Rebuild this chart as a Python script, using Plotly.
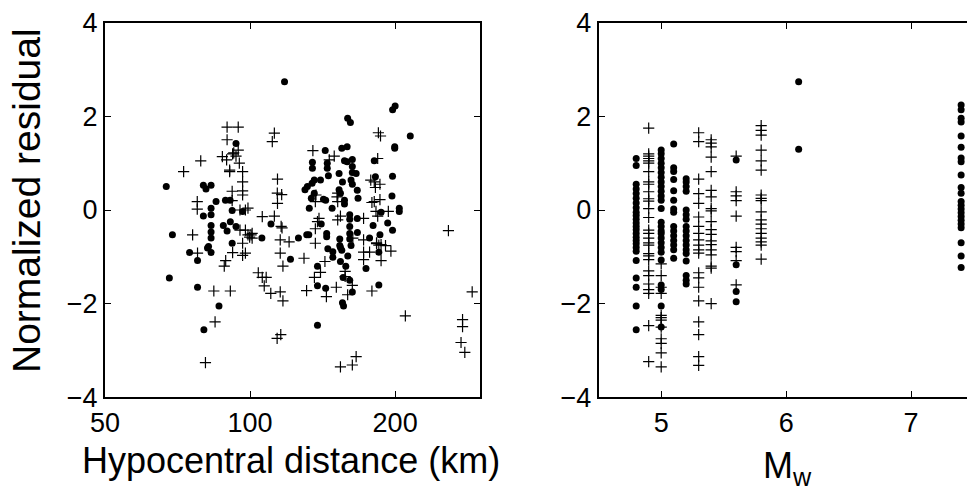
import math
import plotly.graph_objects as go

# left panel: residual vs hypocentral distance (km)
dist_dot = [67, 69, 80, 81, 83, 85, 80, 83, 83, 83, 83, 83, 88, 89.6, 88.9, 90.9, 91.8, 91, 93.5, 93.5,
            96.5, 91.8, 105.8, 110.5, 117.9, 126, 130, 131.1, 132.4, 132.7, 134, 135.9, 134.5, 135.9, 134.7,
            134.7, 140, 143.2, 144.6, 144.6, 145.4, 143.5, 144.2, 144.2, 153, 153, 154, 155, 159, 159, 157,
            157, 155.5, 159.4, 161.5, 162, 163, 163, 163, 163, 166, 161, 161, 161, 161, 161, 166.9, 166.9,
            162, 167, 153.5, 153.5, 177, 180, 182, 181, 186, 187, 193, 197, 197.5, 197.5, 199.6, 199.6,
            197.6, 200, 204, 204, 215, 74.9, 77.8, 83, 81.6, 82, 68, 77.8, 86.2, 80.2, 121.3, 138, 138,
            143.5, 145, 148.5, 148.5, 154, 154, 155, 158, 159.5, 156, 161, 163, 155.5, 156.3, 138, 174,
            185, 185, 131.5, 157, 148, 167.5, 140.5, 142]
res_dot_dist = [0.50, -0.53, 0.53, 0.45, 0.53, 0.18, -0.13, 0.04, -0.10, -0.33, -0.47, -0.60, -0.33, -0.45,
                0.21, 0.21, -0.01, -0.25, 1.42, -0.35, -0.03, -0.71, -0.60, -0.30, 2.74, -0.60, 0.43, -0.53,
                -0.53, 0.04, 0.25, 0.36, 0.57, 0.64, 0.89, 1.02, 0.64, 1.27, 1.00, 0.89, 0.73, 0.21, -0.50,
                -0.57, 0.78, 0.43, 0.36, 1.32, 1.35, 1.03, 0.21, 0.13, 0.60, 1.96, 1.87, 0.64, 0.55, 0.80,
                0.93, 1.08, 0.78, -0.10, -0.20, -0.35, -0.50, -0.62, 0.42, -0.18, -0.76, -0.48, -0.62, -0.76,
                -0.60, -0.33, 0.71, 1.05, -0.53, -0.05, -0.28, 0.30, 0.72, -0.43, 1.32, 1.35, 2.14, 2.22,
                0.04, -0.03, 1.58, -0.91, -1.08, -0.91, -0.81, -0.78, -1.45, -1.65, -2.05, -2.56, -1.05,
                -1.20, -1.62, -1.67, -0.83, -0.89, -1.01, -1.10, -0.80, -0.86, -1.20, -0.98, -1.44, -1.50,
                -1.75, -1.98, -2.05, -2.46, -1.25, -1.60, -0.90, 0.50, 1.05, 0.04, 0.25, -0.30, 0.23]

dist_plus = [72.8, 76, 77.7, 77.7, 79, 87.6, 89.4, 89.6, 94.5, 89.6, 90.7, 90.7, 92, 92.5, 93.5, 94.5, 95,
             96.5, 96.5, 96.5, 96.5, 91.8, 91.8, 95.3, 97.8, 99, 95.3, 97.8, 99, 100.5, 101, 99.8, 101, 106,
             111.2, 112.3, 114, 113.9, 116.3, 114, 112.3, 116, 116.5, 115.5, 120.5, 135, 136.6, 137, 139,
             138, 136.6, 136.6, 146, 149.5, 152, 152, 151.5, 152, 154, 163.4, 172, 172, 178, 181, 186, 182,
             181, 186, 179, 184, 184.6, 186.5, 182.5, 184, 193.6, 183, 187, 191, 258, 77.8, 89, 88.4, 92,
             96.5, 97.8, 96.5, 84.1, 91, 84.6, 80.8, 104, 106, 108, 107, 110.4, 115.5, 117, 115.5, 117,
             113.8, 115.8, 129.4, 131, 136, 140, 143, 144, 151, 154, 163, 166, 157.5, 157.5, 159.4, 163,
             172, 172, 177, 183, 185, 187, 196, 179, 210, 289, 276, 276, 274, 279]
res_plus_dist = [0.82, -0.53, 0.18, 0.02, 1.05, 1.14, 1.07, 1.77, 1.77, 1.50, 0.85, 0.82, 1.20, 1.22, 1.15,
                 1.28, 1.00, 0.82, 0.60, 0.41, 0.32, 0.40, 0.20, 0.00, 0.00, 0.04, -0.43, -0.43, -0.53,
                 -0.53, -0.50, -0.58, -0.60, -0.14, 1.46, 1.64, 0.66, 0.36, 0.33, 0.14, -0.13, -0.35, -0.38,
                 -0.64, -0.68, 1.27, 0.18, 0.32, -0.18, -0.25, -0.40, -0.71, 1.07, 1.15, 0.36, 0.18, 0.28,
                 -0.21, -0.13, -0.60, -0.18, -0.64, 0.64, 0.60, 0.55, 0.48, 0.18, 0.22, 0.16, 1.10, 1.65,
                 1.58, -0.03, -0.13, -0.03, -0.72, -0.74, -0.76, -0.44, -0.92, -1.08, -1.20, -0.91, -0.71,
                 -0.92, -0.97, -1.73, -1.73, -2.39, -3.26, -1.34, -1.44, -1.44, -1.62, -1.78, -1.75, -1.94,
                 -0.92, -1.20, -2.74, -2.66, -1.03, -1.72, -1.44, -1.33, -1.10, -1.85, -1.65, -3.35, -3.31,
                 -3.13, -1.42, -1.31, -1.81, -1.61, -1.06, -0.90, -0.90, -0.70, -0.75, -1.08, -0.88, -1.73,
                 -2.26, -1.75, -2.34, -2.49, -2.83, -3.04]

# right panel: residual vs moment magnitude, one list per magnitude
mw_dot_levels = [4.8, 5.0, 5.1, 5.2, 5.6, 6.1, 7.4]
res_dot_mw = [
    [1.10, 0.95, 0.55, 0.45, 0.35, 0.25, 0.15, 0.05, -0.05, -0.12, -0.20, -0.28, -0.35, -0.42, -0.50,
     -0.58, -0.65, -0.72, -0.80, -0.88, -1.08, -1.45, -1.65, -2.05, -2.56],
    [1.28, 1.20, 1.10, 1.00, 0.90, 0.80, 0.70, 0.60, 0.50, 0.40, 0.30, 0.21, 0.03, -0.26, -0.35, -0.45,
     -0.50, -0.60, -0.70, -0.80, -0.90, -1.07, -1.60, -1.70, -2.05, -2.50],
    [1.41, 0.90, 0.82, 0.65, 0.41, 0.21, 0.02, -0.05, -0.35, -0.45, -0.55, -0.65, -0.75, -0.85, -1.03],
    [0.67, 0.60, 0.50, 0.40, 0.00, -0.10, -0.20, -0.35, -0.45, -0.55, -0.65, -0.75, -0.85, -0.93, -1.09,
     -1.40, -1.50, -1.58],
    [1.07, -1.17, -1.74, -1.96],
    [2.74, 1.30],
    [2.24, 2.14, 1.96, 1.88, 1.58, 1.34, 1.11, 1.03, 0.75, 0.48, 0.36, 0.18, 0.10, 0.02, -0.06, -0.14,
     -0.22, -0.30, -0.38, -0.70, -0.98, -1.23],
]
mw_plus_levels = [4.9, 5.0, 5.3, 5.4, 5.6, 5.8]
res_plus_mw = [
    [1.75, 1.20, 1.15, 1.10, 1.05, 1.00, 0.82, 0.60, 0.55, 0.39, 0.24, 0.19, 0.03, -0.16, -0.43, -0.50,
     -0.60, -0.70, -0.75, -0.93, -0.98, -1.06, -1.30, -1.40, -1.58, -1.70, -1.78, -2.47, -3.24],
    [-1.15, -1.40, -1.65, -1.78, -2.25, -2.30, -2.35, -2.50, -2.75, -2.85, -3.05, -3.35],
    [1.65, 1.46, 0.66, 0.35, 0.14, -0.15, -0.35, -0.50, -0.64, -0.75, -0.85, -0.92, -1.34, -1.45, -1.65,
     -1.94, -2.39, -2.66, -3.13, -3.32],
    [1.50, 1.43, 1.35, 1.13, 0.82, 0.42, 0.28, 0.03, -0.02, -0.25, -0.42, -0.52, -0.66, -0.74, -0.85,
     -0.96, -1.20, -1.24, -2.00],
    [1.15, 0.39, 0.30, 0.20, -0.13, -0.80, -0.89, -1.08, -1.60],
    [1.80, 1.70, 1.60, 1.28, 1.05, 0.85, 0.32, 0.25, 0.20, -0.04, -0.21, -0.30, -0.40, -0.50, -0.60,
     -0.68, -0.75, -1.05],
]

y_ticks = [-4, -2, 0, 2, 4]
dist_ticks = [50, 100, 200]
mw_ticks = [5, 6, 7]

W, H = 967, 495
FONT = "Liberation Sans, Arial, sans-serif"

mw_dot_x = [m for m, r in zip(mw_dot_levels, res_dot_mw) for _ in r]
mw_dot_y = [v for r in res_dot_mw for v in r]
mw_plus_x = [m for m, r in zip(mw_plus_levels, res_plus_mw) for _ in r]
mw_plus_y = [v for r in res_plus_mw for v in r]

dot = dict(symbol="circle", size=7, color="black", line=dict(width=0))
plus = dict(symbol="cross-thin", size=8, color="black", line=dict(width=1.2, color="black"))

fig = go.Figure()
fig.add_trace(go.Scatter(x=dist_dot, y=res_dot_dist, mode="markers", marker=dot, xaxis="x", yaxis="y"))
fig.add_trace(go.Scatter(x=dist_plus, y=res_plus_dist, mode="markers", marker=plus, xaxis="x", yaxis="y"))
fig.add_trace(go.Scatter(x=mw_dot_x, y=mw_dot_y, mode="markers", marker=dot, xaxis="x2", yaxis="y2",
                         cliponaxis=False))
fig.add_trace(go.Scatter(x=mw_plus_x, y=mw_plus_y, mode="markers", marker=plus, xaxis="x2", yaxis="y2"))

ax = dict(showline=True, linecolor="black", linewidth=2, ticks="inside", ticklen=6, tickwidth=1.2,
          tickcolor="black", showgrid=False, zeroline=False, automargin=False, layer="above traces",
          tickfont=dict(family=FONT, size=27, color="black"))
ydom = [1 - 397.3 / H, 1 - 22.7 / H]

fig.update_layout(
    width=W, height=H, margin=dict(l=0, r=0, t=0, b=0, pad=0, autoexpand=False),
    paper_bgcolor="white", plot_bgcolor="white", showlegend=False,
    font=dict(family=FONT, color="black"),
    xaxis=dict(ax, type="log", domain=[105 / W, 480 / W], range=[math.log10(50), math.log10(300)],
               tickvals=dist_ticks, ticktext=[str(t) for t in dist_ticks], mirror="ticks", anchor="y"),
    yaxis=dict(ax, domain=ydom, range=[-4, 4], tickvals=y_ticks, mirror="ticks", anchor="x"),
    xaxis2=dict(ax, domain=[598.7 / W, 1.0], range=[4.5, 7.447], tickvals=mw_ticks,
                mirror="ticks", anchor="y2"),
    yaxis2=dict(ax, domain=ydom, range=[-4, 4], tickvals=y_ticks, mirror=False, anchor="x2"),
)

title = dict(xref="paper", yref="paper", showarrow=False, xanchor="center", yanchor="middle")
fig.add_annotation(title, text="Normalized residual", x=27 / W, y=1 - 201 / H, textangle=-90,
                   font=dict(size=39))
fig.add_annotation(title, text="Hypocentral distance (km)", x=291 / W, y=1 - 460 / H, font=dict(size=36))
fig.add_annotation(title, text="M<sub>w</sub>", x=787 / W, y=1 - 468 / H, font=dict(size=36))

fig.write_html("out.html", config={"displayModeBar": False},
               post_script="document.body.style.margin='0';document.body.style.overflow='hidden';")
